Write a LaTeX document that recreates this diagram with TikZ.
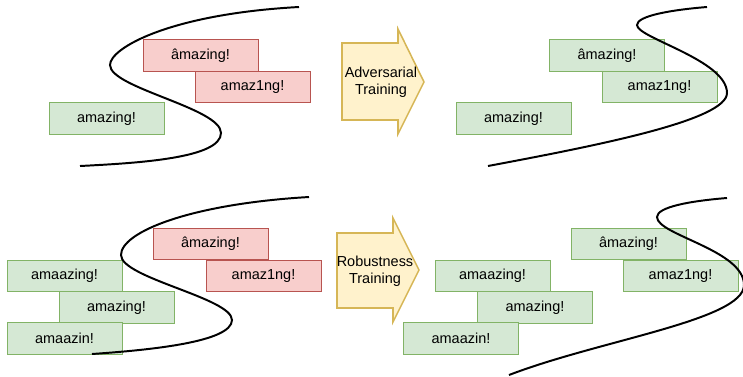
\documentclass[tikz,border=0pt]{standalone}
\usepackage{fontspec}
\setmainfont{Liberation Sans}

\definecolor{redfill}{HTML}{F8CECC}
\definecolor{redline}{HTML}{B85450}
\definecolor{greenfill}{HTML}{D5E8D4}
\definecolor{greenline}{HTML}{82B366}
\definecolor{arrowfill}{HTML}{FFF2CC}
\definecolor{arrowline}{HTML}{D6B656}

\tikzset{
	word/.style = {minimum width = 2.875cm, minimum height = 0.79cm, inner sep = 0pt, line width = 0.6pt, font = \fontsize{10.3}{12}\selectfont},
	goodword/.style = {word, draw = greenline, fill = greenfill},
	badword/.style = {word, draw = redline, fill = redfill},
	boundary/.style = {line width = 1.4pt},
	trainarrow/.style = {draw = arrowline, fill = arrowfill, line width = 1.1pt},
	trainlabel/.style = {align = center, inner sep = 0pt, font = \fontsize{10.3}{12.2}\selectfont}
}

\begin{document}
\begin{tikzpicture}[x = 0.025cm, y = -0.025cm]
	 \useasboundingbox (0, 0) rectangle (743, 376);
	 
	 % top row
	 \node[badword] (tlhat) at (200.5, 55.5) {âmazing!};
	 \node[badword] (tlone) at (252.5, 87) {amaz1ng!};
	 \node[goodword] (tlok) at (106.5, 118.5) {amazing!};
	 \draw[boundary] (299, 7) .. controls (170, 14) and (110, 48) .. (110, 65) .. controls (110, 88) and (221, 108) .. (221, 133) .. controls (221, 158) and (140, 163) .. (80, 166);
	 
	 \draw[trainarrow] (342, 43) -- (398, 43) -- (398, 29) -- (424, 82) -- (398, 134) -- (398, 120) -- (342, 120) -- cycle;
	 \node[trainlabel] (advlabel) at (381, 82) {Adversarial\\Training};
	 
	 \foreach \name/\x/\y/\txt in {trhat/607/55.5/âmazing!, trone/659.5/87/amaz1ng!, trok/513.5/118.5/amazing!}
	 \node[goodword] (\name) at (\x, \y) {\txt};
	 \draw[boundary] (707, 7) .. controls (670, 10) and (637, 16) .. (637, 25) .. controls (637, 38) and (727, 60) .. (727, 93) .. controls (727, 120) and (600, 145) .. (488, 166);
	 
	 % bottom row
	 \node[badword] (blhat) at (210.5, 244) {âmazing!};
	 \node[badword] (blone) at (263.5, 276) {amaz1ng!};
	 \foreach \name/\x/\y/\txt in {blaa/64.5/276/amaazing!, blok/116.5/307.5/amazing!, blin/64.5/338.5/amaazin!}
	 \node[goodword] (\name) at (\x, \y) {\txt};
	 \draw[boundary] (309, 197) .. controls (190, 204) and (121, 232) .. (121, 255) .. controls (121, 278) and (232, 298) .. (232, 320) .. controls (232, 342) and (150, 350) .. (92, 354);
	 
	 \draw[trainarrow] (337, 233) -- (393, 233) -- (393, 218) -- (419, 270) -- (393, 322) -- (393, 308) -- (337, 308) -- cycle;
	 \node[trainlabel] (roblabel) at (375, 271) {Robustness\\Training};
	 
	 \foreach \name/\x/\y/\txt in {brhat/628.5/244/âmazing!, brone/680.5/276/amaz1ng!, braa/492.5/276/amaazing!, brok/535/307.5/amazing!, brin/461/338.5/amaazin!}
	 \node[goodword] (\name) at (\x, \y) {\txt};
	 \draw[boundary] (727, 198) .. controls (690, 201) and (657, 207) .. (657, 217) .. controls (657, 235) and (744, 250) .. (744, 285) .. controls (744, 320) and (600, 340) .. (509, 375);
\end{tikzpicture}
\end{document}
